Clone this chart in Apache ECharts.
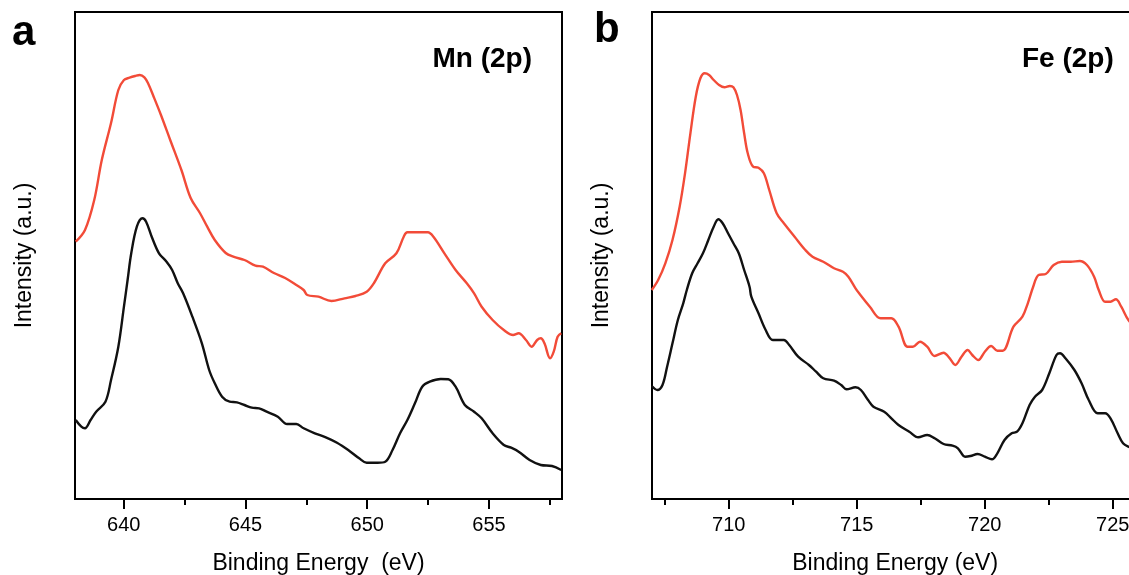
<!DOCTYPE html>
<html>
<head>
<meta charset="utf-8">
<script src="https://cdn.jsdelivr.net/npm/echarts@6/dist/echarts.min.js"></script>
<style>
html,body{margin:0;padding:0;background:#fff;}
#chart{width:1129px;height:575px;}
</style>
</head>
<body>
<div id="chart"></div>
<script>
// ---------- Panel a: Mn (2p) ----------
const mnRedEnergy = [638.03,638.41,638.79,639.10,639.48,639.78,640.01,640.24,640.47,640.66,640.85,641.00,641.23,641.53,641.91,642.37,642.75,643.13,643.43,643.74,644.19,644.50,644.96,645.41,645.72,646.17,646.63,647.09,647.39,647.54,648.00,648.53,649.07,649.52,649.98,650.28,650.74,651.20,651.50,651.65,652.11,652.49,652.72,653.17,653.63,654.09,654.39,654.70,655.15,655.61,655.99,656.22,656.52,656.75,656.98,657.13,657.28,657.51,657.66,657.82,657.97];
const mnRedIntensity = [257.3,269,299,339,376,409,419,421.3,423,424,421.7,415.7,402.3,384,359,329,301,286,272.3,259,246,242.3,239,233.3,232.3,226,221,214,209,204,202.3,198,200.7,203,207.3,216,235.7,245.7,262.3,266.7,266.7,266.7,262.3,245.7,229,215.7,205.7,192.3,179,169,164,165.7,159,152.3,159,160.7,155.7,140.7,147.3,162.3,165.7];

const mnBlackEnergy = [638.03,638.26,638.41,638.64,638.87,639.25,639.48,639.78,640.01,640.16,640.31,640.54,640.77,640.92,641.15,641.45,641.76,641.99,642.22,642.44,642.82,643.21,643.51,643.74,644.04,644.35,644.65,644.96,645.26,645.56,645.87,646.33,646.71,647.09,647.39,647.85,648.30,648.76,649.22,649.67,649.98,650.43,650.74,651.04,651.35,651.65,651.96,652.26,652.57,653.02,653.33,653.63,654.01,654.39,654.70,655.15,655.61,655.91,656.22,656.67,657.13,657.59,657.97];
const mnBlackIntensity = [79,72.3,70.7,79,87.3,97.3,119,152.3,192.3,219,245.7,272.3,280.7,277.3,262.3,245.7,237.3,229,215.7,205.7,182.3,155.7,129,115.7,102.3,97.3,96.7,94,91.3,90.7,87.3,82.3,75,75,70.7,65.7,61.7,56.3,49,40.7,36.3,36.3,37.3,49,65.7,79,95.7,112.3,117.3,120,119.7,112.3,94,87.3,80.7,65.7,54,51.3,47.3,39,34,33,29];

// ---------- Panel b: Fe (2p) ----------
const feRedEnergy = [706.99,707.24,707.52,707.80,708.08,708.29,708.50,708.71,708.89,709.06,709.23,709.41,709.62,709.83,710.04,710.18,710.32,710.46,710.60,710.74,710.95,711.16,711.37,711.58,711.87,712.15,712.57,712.99,713.27,713.69,714.11,714.46,714.67,714.95,715.09,715.51,715.93,716.35,716.63,716.98,717.19,717.47,717.75,718.04,718.39,718.60,718.85,719.09,719.33,719.51,719.75,720.00,720.25,720.49,720.70,721.12,721.47,721.68,721.89,722.10,722.38,722.69,723.01,723.36,723.71,723.99,724.27,724.45,724.70,724.91,725.12,725.33,725.61,726.0];
const feRedIntensity = [209,219,235.7,259,292.3,325.7,365.7,402.3,420.7,425.7,424,419,414,411.7,413,411.7,404,389,365.7,345.7,332.3,331.3,325.7,309,285.7,275.7,262.3,249,242.3,237.3,230.7,227.3,222.3,210.7,205.7,192.3,180.7,180.7,172.3,152.3,152.3,157.3,152.3,143,146.3,141.7,134,142.3,149,144,139,147.3,153,148.3,148.3,172.3,182.3,195.7,212.3,224,225,234,237.3,237.3,238,234,222.3,209,197.3,197.3,199.7,192.3,179,169];

const feBlackEnergy = [706.99,707.21,707.41,707.59,707.80,708.01,708.22,708.36,708.57,708.78,708.99,709.20,709.41,709.59,709.76,709.97,710.18,710.39,710.60,710.81,710.88,711.16,711.44,711.72,712.15,712.36,712.71,713.13,713.41,713.69,714.11,714.39,714.60,714.95,715.16,715.44,715.65,716.07,716.35,716.63,717.05,717.40,717.75,718.04,718.39,718.74,718.95,719.23,719.44,719.72,720.00,720.28,720.49,720.77,721.05,721.26,721.47,721.75,721.96,722.24,722.52,722.80,722.94,723.15,723.50,723.78,724.06,724.41,724.70,724.91,725.19,725.40,725.61,726.0];
const feBlackIntensity = [113,109,114,132.3,155.7,179,195.7,209,225.7,235.7,245.7,259,272.3,279.7,275.7,265.7,255.7,245.7,229,212.3,202.3,185.7,169,159,159,154,142.3,134,127.3,120.7,118.3,114,109.7,111.7,109,99,92.3,87.3,80.7,74,67.3,61.7,64,60.7,55,53.3,50.7,42.3,43,45,42.3,39.7,45.7,59,65.7,67.3,75.7,94,102.3,109,125.7,144,145.7,140.7,129,115.7,99,85.7,85.7,80.7,65.7,55.7,52.3,49];

// ---------- Ticks and text ----------
const mnMajorTicks = [640, 645, 650, 655];
const mnMinorTicks = [642.5, 647.5, 652.5, 657.5];
const feMajorTicks = [710, 715, 720, 725];
const feMinorTicks = [707.5, 712.5, 717.5, 722.5];
const xTitleA = 'Binding Energy  (eV)';
const xTitleB = 'Binding Energy (eV)';
const yTitle = 'Intensity (a.u.)';
const panelLetters = ['a', 'b'];
const panelLabels = ['Mn (2p)', 'Fe (2p)'];

const FONT = "'Liberation Sans', Arial, Helvetica, sans-serif";
const RED = '#f24b38';
const BLACK = '#111111';

function pairs(xs, ys) { return xs.map((x, i) => [x, ys[i]]); }

function majorAxis(grid, min, max, ticks, title) {
  return {
    type: 'value', gridIndex: grid, min: min, max: max, position: 'bottom',
    name: title, nameLocation: 'middle', nameGap: 53,
    nameTextStyle: { fontFamily: FONT, fontSize: 23, color: '#000' },
    axisLine: { show: true, lineStyle: { color: '#000', width: 2 } },
    axisTick: { show: true, inside: false, length: 10, customValues: ticks, lineStyle: { color: '#000', width: 2 } },
    axisLabel: { show: true, customValues: ticks, margin: 16, fontFamily: FONT, fontSize: 20, color: '#000' },
    splitLine: { show: false }
  };
}
function minorAxis(grid, min, max, ticks) {
  return {
    type: 'value', gridIndex: grid, min: min, max: max, position: 'bottom',
    axisLine: { show: false },
    axisTick: { show: true, inside: false, length: 6, customValues: ticks, lineStyle: { color: '#000', width: 2 } },
    axisLabel: { show: false },
    splitLine: { show: false }
  };
}
function yAxisFor(grid) {
  return {
    type: 'value', gridIndex: grid, min: 0, max: 487,
    name: yTitle, nameLocation: 'middle', nameGap: 39, nameRotate: 90,
    nameTextStyle: { fontFamily: FONT, fontSize: 23, color: '#000' },
    axisLine: { show: true, lineStyle: { color: '#000', width: 2 } },
    axisTick: { show: false }, axisLabel: { show: false }, splitLine: { show: false }
  };
}
function lineSeries(x, y, data, color, width) {
  return {
    type: 'line', xAxisIndex: x, yAxisIndex: y, data: data,
    showSymbol: false, smooth: 0.35, animation: false,
    lineStyle: { color: color, width: width }, itemStyle: { color: color }
  };
}

const chart = echarts.init(document.getElementById('chart'), null, { renderer: 'canvas' });
chart.setOption({
  animation: false,
  backgroundColor: '#ffffff',
  grid: [
    { left: 75, top: 12, width: 487, height: 487, outerBoundsMode: 'none', containLabel: false, show: true, borderColor: '#000', borderWidth: 2 },
    { left: 652, top: 12, width: 486.4, height: 487, outerBoundsMode: 'none', containLabel: false, show: true, borderColor: '#000', borderWidth: 2 }
  ],
  xAxis: [
    majorAxis(0, 638, 658, mnMajorTicks, xTitleA),
    minorAxis(0, 638, 658, mnMinorTicks),
    majorAxis(1, 707, 726, feMajorTicks, xTitleB),
    minorAxis(1, 707, 726, feMinorTicks)
  ],
  yAxis: [yAxisFor(0), yAxisFor(1)],
  series: [
    lineSeries(0, 0, pairs(mnRedEnergy, mnRedIntensity), RED, 2.4),
    lineSeries(0, 0, pairs(mnBlackEnergy, mnBlackIntensity), BLACK, 2.4),
    lineSeries(2, 1, pairs(feRedEnergy, feRedIntensity), RED, 2.4),
    lineSeries(2, 1, pairs(feBlackEnergy, feBlackIntensity), BLACK, 2.4)
  ],
  graphic: [
    { type: 'text', left: 12, top: 12, style: { text: panelLetters[0], font: "bold 42px " + FONT, fill: '#000' } },
    { type: 'text', left: 594, top: 9, style: { text: panelLetters[1], font: "bold 42px " + FONT, fill: '#000' } },
    { type: 'text', right: 1129 - 532, top: 45, style: { text: panelLabels[0], font: "bold 28px " + FONT, fill: '#000' } },
    { type: 'text', left: 1022, top: 45, style: { text: panelLabels[1], font: "bold 28px " + FONT, fill: '#000' } }
  ]
});
</script>
</body>
</html>
